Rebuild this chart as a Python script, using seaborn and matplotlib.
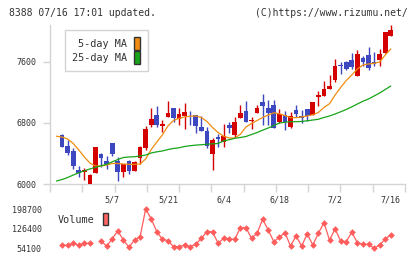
import numpy as np
import pandas as pd
import matplotlib
matplotlib.use("Agg")
import matplotlib.pyplot as plt
import seaborn as sns
from matplotlib.patches import Patch

sns.set_style("white")
plt.rcParams['font.family'] = ['DejaVu Sans Mono', 'DejaVu Sans']

# daily prices
opens = [6625, 6642, 6498, 6433, 6180, 6153, 6000, 6140, 6393, 6297,
         6538, 6306, 6161, 6302, 6175, 6337, 6476, 6777, 6905, 6764,
         6882, 6996, 6856, 6891, 6882, 6905, 6747, 6695, 6397, 6612,
         6547, 6773, 6642, 6869, 6957, 6826, 6935, 7075, 6996, 7036,
         6817, 6905, 6751, 6970, 6891, 6983, 6905, 7140, 7154, 7245,
         7364, 7550, 7600, 7626, 7420, 7652, 7691, 7600, 7626, 7717,
         7940]
highs = [6630, 6655, 6577, 6476, 6236, 6214, 6125, 6489, 6410, 6371,
         6538, 6358, 6262, 6319, 6300, 6502, 6764, 7000, 7026, 6839,
         7088, 6996, 6996, 7058, 6957, 6905, 6895, 6747, 6598, 6660,
         6787, 6813, 6878, 7036, 7088, 6882, 7036, 7180, 7101, 7101,
         6983, 6957, 6944, 7036, 6970, 6983, 7075, 7219, 7350, 7429,
         7639, 7600, 7613, 7717, 7757, 7678, 7796, 7730, 7770, 7993,
         8085]
lows = [6625, 6481, 6380, 6197, 6096, 6052, 5990, 6140, 6227, 6197,
        6371, 6043, 6096, 6131, 6175, 6262, 6446, 6751, 6751, 6686,
        6882, 6813, 6773, 6721, 6773, 6664, 6699, 6476, 6183, 6481,
        6481, 6673, 6616, 6869, 6817, 6721, 6935, 6777, 6777, 6738,
        6804, 6712, 6738, 6878, 6800, 6826, 6905, 7022, 7154, 7245,
        7337, 7442, 7495, 7512, 7420, 7551, 7495, 7547, 7547, 7717,
        7940]
closes = [6625, 6481, 6402, 6236, 6148, 6180, 6118, 6489, 6337, 6266,
          6393, 6153, 6262, 6175, 6288, 6489, 6725, 6852, 6777, 6787,
          6931, 6869, 6922, 6944, 6874, 6764, 6699, 6502, 6577, 6586,
          6629, 6738, 6813, 6931, 6817, 6843, 6996, 7027, 6935, 6738,
          6918, 6817, 6891, 6918, 6865, 6891, 7075, 7167, 7245, 7285,
          7547, 7545, 7512, 7538, 7704, 7600, 7521, 7574, 7704, 7993,
          8019]

ma5 = [6626, 6616, 6590, 6531, 6446, 6354, 6275, 6236, 6236, 6249,
       6269, 6269, 6262, 6258, 6258, 6262, 6328, 6452, 6551, 6643,
       6761, 6833, 6862, 6879, 6889, 6892, 6872, 6820, 6741, 6675,
       6626, 6603, 6603, 6652, 6748, 6793, 6833, 6872, 6905, 6934,
       6921, 6898, 6870, 6870, 6879, 6892, 6908, 6938, 7003, 7053,
       7167, 7266, 7357, 7430, 7508, 7561, 7574, 7582, 7600, 7692,
       7771]
ma25 = [6039, 6059, 6085, 6118, 6147, 6174, 6197, 6219, 6239, 6258,
        6291, 6321, 6348, 6354, 6358, 6367, 6380, 6407, 6422, 6433,
        6452, 6466, 6475, 6492, 6502, 6510, 6515, 6521, 6527, 6531,
        6564, 6581, 6599, 6610, 6623, 6649, 6675, 6706, 6734, 6767,
        6800, 6810, 6817, 6817, 6820, 6829, 6839, 6849, 6872, 6892,
        6918, 6947, 6977, 7012, 7049, 7085, 7115, 7154, 7193, 7239,
        7285]

volume = [np.nan, 65200, 65200, 72500, 65200, 72500, 72500, np.nan, 82100, 61500,
          89500, 118000, 84700, 57800, 84700, 96900, 198700, 162200, 115300, 87300,
          82100, 60000, 60000, 66300, 60000, 68900, 91000, 115300, 115300, 72500,
          91000, 87300, 87300, 130100, 130100, 91000, 109400, 161100, 121600, 78500,
          94700, 111700, 62600, 99500, 62600, 106900, 66300, 109400, 148500, 84700,
          125300, 81000, 78500, 113100, 74800, 68900, 68900, 54100, 66300, 88400,
          103200]

date_labels = ["5/7", "5/21", "6/4", "6/18", "7/2", "7/16"]
date_days = [10, 20, 30, 40, 50, 60]
price_ticks = [6000, 6800, 7600]
vol_ticks = [54100, 126400, 198700]

df = pd.DataFrame({"open": opens, "high": highs, "low": lows, "close": closes,
                   "ma5": ma5, "ma25": ma25, "volume": volume})
df["day"] = np.arange(len(df))

RED = "#d40000"
BLUE = "#3d47bf"
ORANGE = "#f08c10"
GREEN = "#18a418"
VOLC = "#ff5c5c"
AXC = "#d4d4d4"
TXT = "#333333"

fig = plt.figure(figsize=(4.2, 2.59), dpi=100)
ax = fig.add_axes([50/420, 1-184/259, 355/420, 159/259])
axv = fig.add_axes([50/420, 1-252/259, 355/420, 47/259])

up = df["close"] >= df["open"]
cols = np.where(up, RED, BLUE)
ax.vlines(df["day"], df["low"], df["high"], colors=cols, lw=1, zorder=2)
body = np.maximum((df["close"] - df["open"]).abs(), 10)
ax.bar(df["day"], body, bottom=np.minimum(df["open"], df["close"]),
       width=0.85, color=cols, linewidth=0, zorder=3)

sns.lineplot(data=df, x="day", y="ma5", ax=ax, color=ORANGE, lw=0.9, zorder=4)
sns.lineplot(data=df, x="day", y="ma25", ax=ax, color=GREEN, lw=0.9, zorder=4)

xlim = (-1.17, 62.55)
ax.set_xlim(*xlim)
ax.set_ylim(6000, 8085)
ax.set_xlabel("")
ax.set_ylabel("")
ax.set_yticks(price_ticks)
ax.set_yticklabels([str(t) for t in price_ticks])
ax.set_xticks(np.linspace(xlim[0], xlim[1], 12))
ax.set_xticklabels([])
ax.set_xticks(date_days, minor=True)
ax.set_xticklabels(date_labels, minor=True)
ax.tick_params(axis='x', which='major', bottom=True, length=6, width=1, color=AXC)
ax.tick_params(axis='x', which='minor', bottom=True, length=0, pad=8, labelsize=6, labelcolor=TXT)
ax.tick_params(axis='y', left=True, length=5, width=1, color=AXC, labelsize=6, pad=5, labelcolor=TXT)
for s in ["top", "right"]:
    ax.spines[s].set_visible(False)
for s in ["left", "bottom"]:
    ax.spines[s].set_color(AXC)
    ax.spines[s].set_linewidth(1)

handles = [Patch(facecolor=ORANGE, edgecolor=TXT, lw=1, label="5-day MA"),
           Patch(facecolor=GREEN, edgecolor=TXT, lw=1, label="25-day MA")]
leg = ax.legend(handles=handles, loc="upper left", bbox_to_anchor=(65/420, 1-30/259),
                bbox_transform=fig.transFigure, markerfirst=False, handlelength=0.6,
                handleheight=1.55, handletextpad=0.7, labelspacing=0.15, borderpad=0.7,
                borderaxespad=0, fancybox=False, framealpha=1, edgecolor=AXC, fontsize=7.3)
leg.get_frame().set_linewidth(1)
for t in leg.get_texts():
    t.set_color(TXT)

# volume
axv.plot(df["day"], df["volume"], color=VOLC, lw=0.9, marker="D", markersize=3.4,
         markeredgewidth=0)
axv.set_xlim(*xlim)
axv.set_ylim(40500, 213500)
axv.set_xticks([])
axv.set_yticks(vol_ticks)
axv.set_yticklabels([str(t) for t in vol_ticks])
axv.tick_params(axis='y', left=False, length=0, labelsize=6, pad=6, labelcolor=TXT)
for s in axv.spines.values():
    s.set_visible(False)
axv.patch.set_alpha(0)
vleg = axv.legend(handles=[Patch(facecolor="#ff6464", edgecolor=TXT, lw=1, label="Volume")],
                  loc="upper left", bbox_to_anchor=(55/420, 1-210/259),
                  bbox_transform=fig.transFigure, markerfirst=False, handlelength=0.55,
                  handleheight=1.5, handletextpad=0.8, borderpad=0.3, borderaxespad=0,
                  frameon=False, fontsize=7.3)
for t in vleg.get_texts():
    t.set_color(TXT)

fig.text(9/420, 1-12.7/259, "8388 07/16 17:01 updated.", ha="left", va="center",
         fontsize=7.0, color=TXT)
fig.text(255/420, 1-12.7/259, "(C)https://www.rizumu.net/", ha="left", va="center",
         fontsize=7.0, color=TXT)

fig.savefig("out.png", dpi=100)
